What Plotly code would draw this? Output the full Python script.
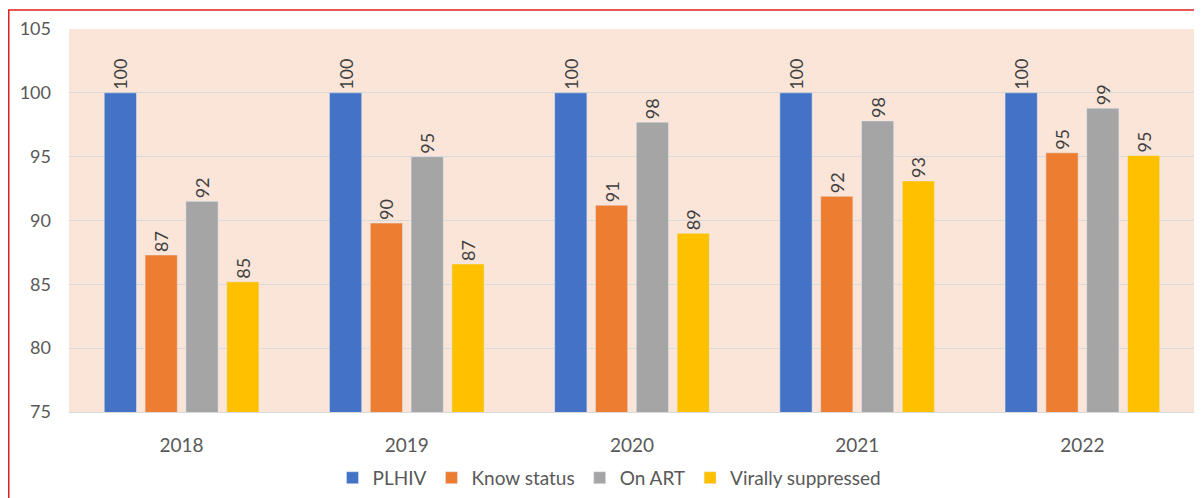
import plotly.graph_objects as go

years = ["2018", "2019", "2020", "2021", "2022"]
plhiv = [100, 100, 100, 100, 100]
know_status = [87.3, 89.8, 91.2, 91.9, 95.3]
on_art = [91.5, 95.0, 97.7, 97.8, 98.8]
virally_suppressed = [85.2, 86.6, 89.0, 93.1, 95.1]

series = [
    ("PLHIV", plhiv, "#4472C4"),
    ("Know status", know_status, "#ED7D31"),
    ("On ART", on_art, "#A5A5A5"),
    ("Virally suppressed", virally_suppressed, "#FFC000"),
]

fig = go.Figure()
for name, vals, color in series:
    fig.add_trace(go.Bar(
        x=years, y=vals, name=name, marker_color=color,
        text=[f"{v:.0f}" for v in vals], textposition="outside",
        textangle=-90, constraintext="none", cliponaxis=False,
        textfont=dict(size=18, color="#404040"),
    ))

# red frame, only top and left edges fall inside the picture
fig.add_shape(type="rect", xref="paper", yref="paper",
              x0=-0.0535, y0=-0.4, x1=1.05, y1=1.0496,
              line=dict(color="#E02020", width=1.5), layer="above")

# page body adds 8px, so figure is 8px smaller each way
fig.update_layout(
    width=1194, height=490,
    margin=dict(l=61, r=7, t=21, b=86, autoexpand=False),
    paper_bgcolor="white", plot_bgcolor="#FBE5D8",
    font=dict(family="Lato, Open Sans, sans-serif", size=17, color="#595959"),
    barmode="group", bargap=0.275, bargroupgap=0.21,
    showlegend=True,
    legend=dict(orientation="h", x=0.48, xanchor="center", y=-0.172, yanchor="middle",
                font=dict(size=19, color="#595959"), itemwidth=30),
)
fig.update_yaxes(range=[75, 105], dtick=5, gridcolor="#D9D9D9", gridwidth=1,
                 zeroline=False, showline=False, ticklabelstandoff=17,
                 tickfont=dict(size=18, color="#595959"))
fig.update_xaxes(showline=True, linecolor="#D9D9D9", ticklabelstandoff=16,
                 tickfont=dict(size=19, color="#595959"))

fig.write_html("out.html")
